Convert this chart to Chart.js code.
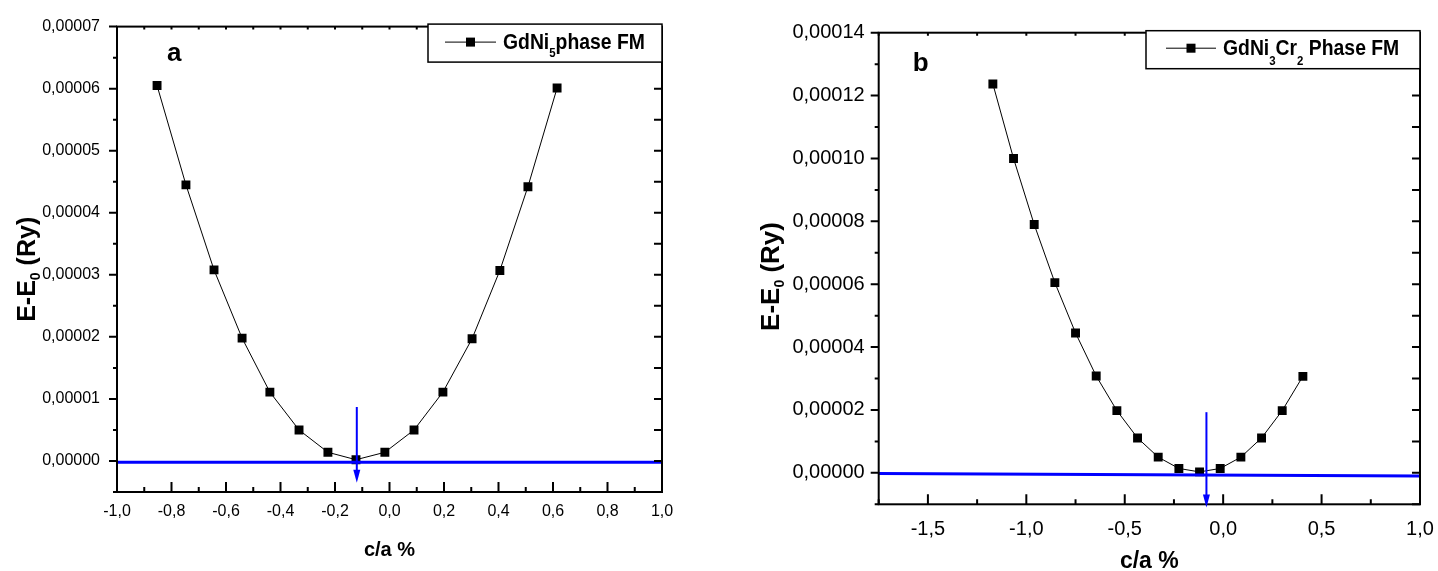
<!DOCTYPE html>
<html>
<head>
<meta charset="utf-8">
<script src="https://cdn.jsdelivr.net/npm/chart.js@4.4.1/dist/chart.umd.min.js"></script>
<style>
  html, body { margin: 0; padding: 0; background: #fff; }
  #wrap { position: relative; width: 1438px; height: 571px; }
  canvas { position: absolute; top: 0; }
  #chartA { left: 0; }
  #chartB { left: 720px; }
</style>
</head>
<body>
<div id="wrap">
  <canvas id="chartA" width="720" height="571"></canvas>
  <canvas id="chartB" width="718" height="571"></canvas>
</div>
<script>
// --- panel a : GdNi5 ---
const caA = [-0.853, -0.747, -0.644, -0.541, -0.439, -0.332, -0.226, -0.123, -0.017, 0.090, 0.196, 0.303, 0.405, 0.508, 0.615];
const energyA = [6.05e-5, 4.45e-5, 3.08e-5, 1.98e-5, 1.11e-5, 0.50e-5, 0.14e-5, 0.02e-5, 0.14e-5, 0.50e-5, 1.11e-5, 1.97e-5, 3.07e-5, 4.42e-5, 6.01e-5];
const baseA = { x: [-1, 1], y: [-0.02e-5, -0.02e-5] };
const arrowA = { x: -0.12, from: 0.87e-5, to: -0.35e-5 };
const legendA = [['GdNi', false], ['5', true], ['phase FM', false]];

// --- panel b : GdNi3Cr2 ---
const caB = [-1.17, -1.065, -0.96, -0.855, -0.75, -0.645, -0.54, -0.435, -0.33, -0.225, -0.12, -0.015, 0.09, 0.195, 0.30, 0.405];
const energyB = [12.37e-5, 10.0e-5, 7.9e-5, 6.05e-5, 4.45e-5, 3.08e-5, 1.98e-5, 1.11e-5, 0.50e-5, 0.14e-5, 0.03e-5, 0.14e-5, 0.50e-5, 1.11e-5, 1.98e-5, 3.07e-5];
const baseB = { x: [-1.75, 1.0], y: [-0.02e-5, -0.1e-5] };
const arrowB = { x: -0.085, from: 1.93e-5, to: -1.1e-5 };
const legendB = [['GdNi', false], ['3', true], ['Cr', false], ['2', true], [' Phase FM', false]];

const yTitle = [['E-E', false], ['0', true], [' (Ry)', false]];

const FONT = "'Liberation Sans', Arial, sans-serif";
Chart.defaults.font.family = FONT;
Chart.defaults.color = '#000';

const comma = (v, d) => (Math.abs(v) < 1e-12 ? 0 : v).toFixed(d).replace('.', ',');

// draw text pieces left to right, subscripts smaller and lowered
function richText(ctx, parts, x, y, size, subSize, drop, measureOnly) {
    let cx = x;
    parts.forEach(([txt, sub]) => {
        ctx.font = 'bold ' + (sub ? subSize : size) + 'px ' + FONT;
        if (!measureOnly) ctx.fillText(txt, cx, sub ? y + drop : y);
        cx += ctx.measureText(txt).width;
    });
    return cx - x;
}

// minor tick values half way between the major ones
function minorValues(major, min, max) {
    if (major.length < 2) return [];
    const step = major[1] - major[0];
    const out = [];
    const first = major[0] - step / 2;
    if (first >= min - 1e-12) out.push(first);
    for (let i = 0; i < major.length - 1; i++) out.push((major[i] + major[i + 1]) / 2);
    const last = major[major.length - 1] + step / 2;
    if (last <= max + 1e-12) out.push(last);
    return out;
}

// frame, ticks, arrow, legend box, panel letter
const decorPlugin = {
    id: 'decor',
    afterDatasetsDraw(chart, args, o) {
        const { ctx, chartArea: a, scales: { x, y } } = chart;
        ctx.save();
        ctx.strokeStyle = '#000';
        ctx.lineWidth = 2;
        ctx.strokeRect(a.left, a.top, a.right - a.left, a.bottom - a.top);

        const xMaj = x.ticks.map(t => t.value);
        const yMaj = y.ticks.map(t => t.value);
        const xMin = minorValues(xMaj, x.min, x.max);
        const yMin = minorValues(yMaj, y.min, y.max);
        ctx.beginPath();
        xMaj.forEach(v => { const p = x.getPixelForValue(v); ctx.moveTo(p, a.bottom); ctx.lineTo(p, a.bottom - 10); });
        xMin.forEach(v => { const p = x.getPixelForValue(v); ctx.moveTo(p, a.bottom); ctx.lineTo(p, a.bottom - 5); });
        xMaj.concat(xMin).forEach(v => { const p = x.getPixelForValue(v); ctx.moveTo(p, a.top); ctx.lineTo(p, a.top + 3); });
        yMaj.forEach(v => { const p = y.getPixelForValue(v); ctx.moveTo(a.left, p); ctx.lineTo(a.left - 8, p); });
        yMin.forEach(v => { const p = y.getPixelForValue(v); ctx.moveTo(a.left, p); ctx.lineTo(a.left - 4, p); });
        yMaj.concat(yMin).forEach(v => { const p = y.getPixelForValue(v); ctx.moveTo(a.right, p); ctx.lineTo(a.right - 8, p); });
        ctx.stroke();

        // blue arrow marking the minimum
        const ar = o.arrow;
        const ax = x.getPixelForValue(ar.x);
        const y0 = y.getPixelForValue(ar.from);
        const y1 = y.getPixelForValue(ar.to);
        ctx.strokeStyle = '#0000ff';
        ctx.fillStyle = '#0000ff';
        ctx.lineWidth = 2;
        ctx.beginPath();
        ctx.moveTo(ax, y0);
        ctx.lineTo(ax, y1 - 10);
        ctx.stroke();
        ctx.beginPath();
        ctx.moveTo(ax - 3.5, y1 - 13);
        ctx.lineTo(ax + 3.5, y1 - 13);
        ctx.lineTo(ax, y1);
        ctx.closePath();
        ctx.fill();

        // legend box
        const lg = o.legend;
        const bx = a.right - lg.w;
        const by = a.top + lg.dy;
        ctx.fillStyle = '#fff';
        ctx.fillRect(bx, by, lg.w, lg.h);
        ctx.strokeStyle = '#000';
        ctx.lineWidth = 1.5;
        ctx.strokeRect(bx, by, lg.w, lg.h);
        ctx.lineWidth = 1;
        ctx.beginPath();
        ctx.moveTo(bx + lg.lineX0, by + lg.lineY);
        ctx.lineTo(bx + lg.lineX1, by + lg.lineY);
        ctx.stroke();
        ctx.fillStyle = '#000';
        const mx = bx + (lg.lineX0 + lg.lineX1) / 2;
        ctx.fillRect(mx - 4.5, by + lg.lineY - 4.5, 9, 9);
        ctx.textBaseline = 'alphabetic';
        ctx.textAlign = 'left';
        ctx.save();
        ctx.translate(bx + lg.textX, by + lg.base);
        ctx.scale(lg.sx, 1);   // the original lettering is condensed
        richText(ctx, lg.parts, 0, 0, lg.size, lg.subSize, lg.drop);
        ctx.restore();

        // panel letter
        ctx.font = 'bold 26px ' + FONT;
        ctx.fillText(o.letter.text, a.left + o.letter.dx, a.top + o.letter.dy);

        // y axis title with subscript
        const t = o.yTitle;
        const cy = (a.top + a.bottom) / 2 + t.dy;
        ctx.translate(t.x, cy);
        ctx.rotate(-Math.PI / 2);
        const w = richText(ctx, yTitle, 0, 0, t.size, t.subSize, t.drop, true);
        richText(ctx, yTitle, -w / 2, 0, t.size, t.subSize, t.drop);
        ctx.restore();
    }
};

function makeChart(id, cfg) {
    const points = cfg.ca.map((c, i) => ({ x: c, y: cfg.energy[i] }));
    const base = cfg.base.x.map((c, i) => ({ x: c, y: cfg.base.y[i] }));
    return new Chart(document.getElementById(id), {
        type: 'line',
        data: {
            datasets: [{
                label: cfg.label,
                data: points,
                borderColor: '#000',
                borderWidth: 1,
                pointStyle: 'rect',
                pointRadius: 6.3,
                pointBackgroundColor: '#000',
                pointBorderWidth: 0,
                tension: 0,
                order: 1
            }, {
                label: 'E0',
                data: base,
                borderColor: '#0000ff',
                borderWidth: 3,
                pointRadius: 0,
                order: 0
            }]
        },
        options: {
            responsive: false,
            animation: false,
            layout: { padding: cfg.padding },
            plugins: {
                legend: { display: false },
                tooltip: { enabled: false },
                decor: cfg.decor
            },
            scales: {
                x: {
                    type: 'linear',
                    min: cfg.xRange[0],
                    max: cfg.xRange[1],
                    grid: { display: false, drawTicks: false },
                    border: { display: false },
                    ticks: {
                        stepSize: cfg.xStep,
                        includeBounds: false,
                        autoSkip: false,
                        maxRotation: 0,
                        padding: cfg.xPad,
                        font: { size: cfg.tickSize },
                        callback: v => comma(v, 1)
                    },
                    title: {
                        display: true,
                        text: 'c/a %',
                        font: { size: cfg.xTitleSize, weight: 'bold', lineHeight: 1 },
                        padding: { top: 0, bottom: cfg.xTitlePad }
                    },
                    afterFit: s => {
                        s.height = cfg.xHeight;
                        s.paddingLeft = 0;
                        s.paddingRight = 0;
                    }
                },
                y: {
                    type: 'linear',
                    min: cfg.yRange[0],
                    max: cfg.yRange[1],
                    grid: { display: false, drawTicks: false },
                    border: { display: false },
                    ticks: {
                        stepSize: cfg.yStep,
                        includeBounds: false,
                        padding: cfg.yPad,
                        font: { size: cfg.tickSize },
                        callback: v => comma(v, 5)
                    },
                    afterFit: s => { s.width = cfg.yWidth; }
                }
            }
        },
        plugins: [decorPlugin]
    });
}

makeChart('chartA', {
    label: 'GdNi5phase FM',
    ca: caA, energy: energyA, base: baseA,
    xRange: [-1, 1], xStep: 0.2,
    yRange: [-0.5e-5, 7e-5], yStep: 1e-5,
    padding: { top: 20.7, right: 58, left: 0, bottom: 0 },
    xHeight: 79, yWidth: 117,
    tickSize: 16, xPad: 10, yPad: 17,
    xTitleSize: 20, xTitlePad: 11,
    decor: {
        arrow: arrowA,
        legend: { w: 234, h: 38, dy: -2.5, lineX0: 17, lineX1: 68, lineY: 18, textX: 75, base: 25, parts: legendA, size: 22, subSize: 13, drop: 7.5, sx: 0.88 },
        letter: { text: 'a', dx: 50, dy: 34 },
        yTitle: { x: 35, dy: 10, size: 25, subSize: 14, drop: 5 }
    }
});

makeChart('chartB', {
    label: 'GdNi3Cr2 Phase FM',
    ca: caB, energy: energyB, base: baseB,
    xRange: [-1.75, 1.0], xStep: 0.5,
    yRange: [-1e-5, 14e-5], yStep: 2e-5,
    padding: { top: 32.7, right: 18, left: 0, bottom: 0 },
    xHeight: 66.7, yWidth: 158.7,
    tickSize: 20, xPad: 12.7, yPad: 14,
    xTitleSize: 23, xTitlePad: -2,
    decor: {
        arrow: arrowB,
        legend: { w: 274, h: 38, dy: -2, lineX0: 20, lineX1: 70, lineY: 17.5, textX: 77, base: 24.5, parts: legendB, size: 22, subSize: 13, drop: 10, sx: 0.88 },
        letter: { text: 'b', dx: 34, dy: 38.3 },
        yTitle: { x: 59, dy: 8, size: 26, subSize: 14, drop: 5 }
    }
});
</script>
</body>
</html>
